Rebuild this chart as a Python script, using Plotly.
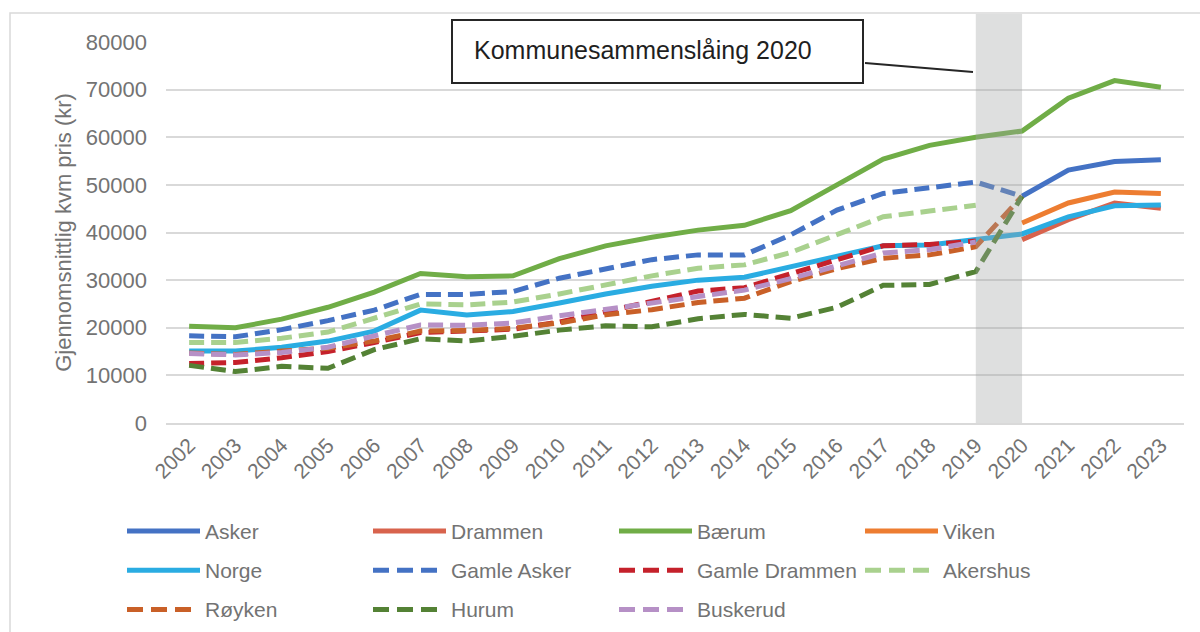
import plotly.graph_objects as go

years = [str(y) for y in range(2002, 2024)]

asker = [None] * 18 + [47600, 53100, 54900, 55300]
drammen = [None] * 18 + [38500, 42700, 46200, 45100]
baerum = [20300, 20000, 21800, 24300, 27500, 31400, 30700, 30900, 34500, 37200, 39000,
          40500, 41500, 44600, 50000, 55400, 58300, 60000, 61300, 68200, 71900, 70500]
viken = [None] * 18 + [42000, 46200, 48500, 48200]
norge = [15100, 15100, 15900, 17200, 19300, 23700, 22700, 23400, 25200, 27100, 28700,
         30000, 30600, 32800, 35000, 37200, 37400, 38500, 39700, 43300, 45600, 45800]
gamle_asker = [18300, 18100, 19600, 21500, 23700, 27000, 27000, 27600, 30400, 32400, 34300,
               35300, 35300, 39500, 44700, 48200, 49500, 50600, 47600, None, None, None]
gamle_drammen = [12500, 12700, 13700, 15000, 16900, 19000, 19300, 19700, 21200, 23400, 25700,
                 27700, 28400, 31300, 34200, 37200, 37500, 38200, None, None, None, None]
akershus = [16900, 16900, 17800, 19100, 22000, 25000, 24800, 25400, 27100, 29000, 30900,
            32500, 33200, 35800, 39500, 43300, 44500, 45700, None, None, None, None]
royken = [14700, 14400, 15100, 15700, 17200, 19300, 19400, 19900, 21000, 22700, 23800,
          25300, 26200, 29700, 32400, 34600, 35300, 37000, 47600, None, None, None]
hurum = [12100, 10800, 11900, 11500, 15400, 17700, 17200, 18200, 19500, 20400, 20200,
         21900, 22800, 22000, 24300, 28900, 29100, 31800, 47600, None, None, None]
buskerud = [14600, 14300, 14800, 15900, 18300, 20600, 20500, 21000, 22500, 23900, 25100,
            26700, 27900, 30300, 33000, 35700, 36400, 38000, None, None, None, None]

series_names = ["Asker", "Drammen", "Bærum", "Viken", "Norge", "Gamle Asker",
                "Gamle Drammen", "Akershus", "Røyken", "Hurum", "Buskerud"]
series_values = [asker, drammen, baerum, viken, norge, gamle_asker,
                 gamle_drammen, akershus, royken, hurum, buskerud]

y_title = "Gjennomsnittlig kvm pris (kr)"
note_text = "Kommunesammenslåing 2020"
band_start, band_end = "2019", "2020"

# ---- styles ----
colors = {
    "Asker": "#4472C4", "Drammen": "#D8634D", "Bærum": "#70AD47", "Viken": "#ED7D31",
    "Norge": "#2AACE2", "Gamle Asker": "#4472C4", "Gamle Drammen": "#C5212B",
    "Akershus": "#A9D18E", "Røyken": "#C96028", "Hurum": "#548235", "Buskerud": "#B690C6",
}
dashed = {"Gamle Asker", "Gamle Drammen", "Akershus", "Røyken", "Hurum", "Buskerud"}
FONT = "Liberation Sans, Arial, sans-serif"
GRAY = "#737373"

W, H = 1200, 632
PL, PR, PT, PB = 166, 1184, 42, 423


def px(x):
    return (x - PL) / (PR - PL)


def py(y):
    return (PB - y) / (PB - PT)


fig = go.Figure()
for name, vals in zip(series_names, series_values):
    fig.add_trace(go.Scatter(
        x=years, y=vals, name=name, mode="lines", showlegend=False,
        line=dict(color=colors[name], width=5,
                  dash="15px,7px" if name in dashed else "solid"),
        connectgaps=False,
    ))

shapes = []
annotations = []

# outer chart border
shapes.append(dict(type="rect", xref="paper", yref="paper",
                   x0=px(10), x1=px(1210), y0=py(645), y1=py(13),
                   line=dict(color="#D9D9D9", width=1.5), fillcolor="rgba(0,0,0,0)",
                   layer="below"))

# shaded merger band
shapes.append(dict(type="rect", xref="x", yref="paper",
                   x0=years.index(band_start), x1=years.index(band_end),
                   y0=0, y1=py(14), fillcolor="#A0A4A4", opacity=0.35,
                   line=dict(width=0), layer="above"))

# callout box and leader line
shapes.append(dict(type="rect", xref="paper", yref="paper",
                   x0=px(452), x1=px(863), y0=py(83), y1=py(20),
                   fillcolor="white", line=dict(color="#262626", width=2), layer="above"))
shapes.append(dict(type="line", xref="paper", yref="paper",
                   x0=px(865), y0=py(63), x1=px(973), y1=py(72),
                   line=dict(color="#262626", width=2), layer="above"))
annotations.append(dict(xref="paper", yref="paper", x=px(472), y=py(50),
                        xanchor="left", yanchor="middle", showarrow=False,
                        text=note_text, font=dict(family=FONT, size=25, color="#1F1F1F")))

# custom legend (4 columns x 3 rows)
for i, name in enumerate(series_names):
    c, r = i % 4, i // 4
    x0 = 127 + 246 * c
    yr = 531 + 39.3 * r
    if name in dashed:
        shapes.append(dict(type="line", xref="paper", yref="paper",
                           x0=px(x0), x1=px(x0 + 64), y0=py(yr), y1=py(yr),
                           line=dict(color=colors[name], width=5, dash="16px,8px")))
    else:
        shapes.append(dict(type="line", xref="paper", yref="paper",
                           x0=px(x0), x1=px(x0 + 73), y0=py(yr), y1=py(yr),
                           line=dict(color=colors[name], width=5)))
    annotations.append(dict(xref="paper", yref="paper", x=px(x0 + 76), y=py(yr),
                            xanchor="left", yanchor="middle", showarrow=False,
                            text=name, font=dict(family=FONT, size=21, color=GRAY)))

fig.update_layout(
    width=W, height=H,
    margin=dict(l=PL, r=W - PR, t=PT, b=H - PB),
    paper_bgcolor="white", plot_bgcolor="white",
    font=dict(family=FONT, color=GRAY),
    shapes=shapes, annotations=annotations,
    showlegend=False,
)
fig.update_xaxes(type="category", range=[-0.5, len(years) - 0.5], tickangle=-45,
                 showgrid=False, showline=True, linecolor="#D9D9D9", linewidth=1.5,
                 ticks="", tickfont=dict(family=FONT, size=21, color=GRAY))
fig.update_yaxes(range=[0, 80000], dtick=10000, tickformat="d", showgrid=True,
                 gridcolor="#D9D9D9", gridwidth=1.5, zeroline=False, showline=False,
                 ticks="", ticklabelstandoff=18,
                 tickfont=dict(family=FONT, size=22, color=GRAY),
                 title=dict(text=y_title, standoff=8,
                            font=dict(family=FONT, size=22, color=GRAY)))

fig.write_html("out.html", config={"displayModeBar": False},
               post_script="document.body.style.margin='0';document.body.style.overflow='hidden';")
